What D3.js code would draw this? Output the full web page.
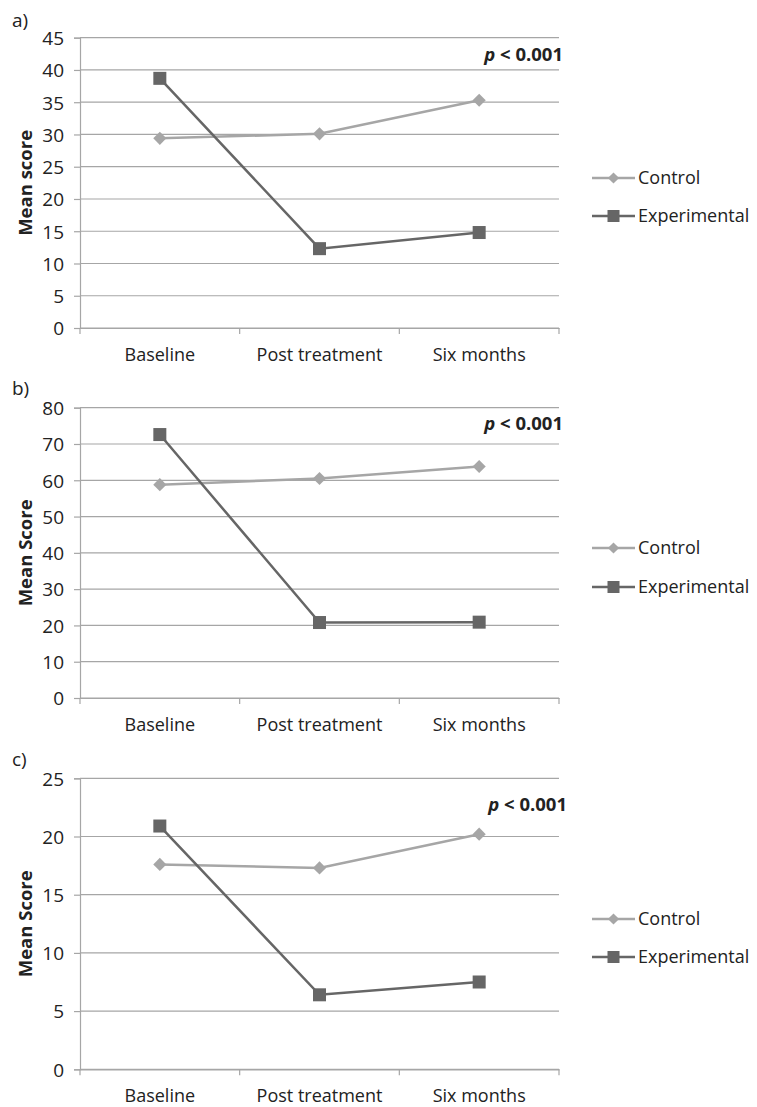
<!DOCTYPE html>
<html><head><meta charset="utf-8">
<script src="https://cdn.jsdelivr.net/npm/d3@7"></script>
<style>body{margin:0;background:#fff}svg{display:block}text{font-family:"Open Sans",sans-serif;fill:#222}</style>
</head><body>
<script>
const categories = ["Baseline", "Post treatment", "Six months"];
const seriesNames = ["Control", "Experimental"];
const panelLabels = ["a)", "b)", "c)"];
const yTitles = ["Mean score", "Mean Score", "Mean Score"];
const yMax = [45, 80, 25];
const yStep = [5, 10, 5];
const controlA = [29.4, 30.1, 35.3];
const experimentalA = [38.7, 12.3, 14.8];
const controlB = [58.8, 60.5, 63.8];
const experimentalB = [72.6, 20.8, 20.9];
const controlC = [17.6, 17.3, 20.2];
const experimentalC = [20.9, 6.4, 7.5];
const pLabel = "< 0.001";

const W = 757, H = 1107;
const FONT = "Open Sans";
const svg = d3.select("body").append("svg").attr("width", W).attr("height", H);
const colors = {Control: "#a6a6a6", Experimental: "#666666"};
const gridColor = "#a6a6a6";

const panels = [
  {top: 37.7, bottom: 328, ctrl: controlA, exp: experimentalA, lab: [12, 27], p: [563, 61], leg: [178, 216]},
  {top: 407.7, bottom: 698, ctrl: controlB, exp: experimentalB, lab: [12, 395], p: [563, 430], leg: [548, 587]},
  {top: 778.3, bottom: 1069.3, ctrl: controlC, exp: experimentalC, lab: [12, 766], p: [567, 811], leg: [919, 957]}
];
const left = 80, right = 559;

panels.forEach((P, i) => {
  const g = svg.append("g");
  const x = d3.scaleBand().domain(categories).range([left, right]);
  const y = d3.scaleLinear().domain([0, yMax[i]]).range([P.bottom, P.top]);
  const ticks = d3.range(0, yMax[i] + 0.001, yStep[i]);

  g.append("g").selectAll("line").data(ticks).join("line")
    .attr("x1", left).attr("x2", right)
    .attr("y1", d => y(d)).attr("y2", d => y(d))
    .attr("stroke", gridColor).attr("stroke-width", 1.2);

  const ya = g.append("g").attr("transform", `translate(${left},0)`)
    .call(d3.axisLeft(y).tickValues(ticks).tickSize(6).tickPadding(10).tickFormat(d3.format("d")));
  ya.select(".domain").attr("stroke", gridColor).attr("stroke-width", 1.2);
  ya.selectAll(".tick line").attr("stroke", gridColor).attr("stroke-width", 1.2);
  ya.selectAll(".tick text").style("font-size", "19px").style("font-family", FONT).attr("fill", "#222").attr("dy", "0.36em");

  const xa = g.append("g").attr("transform", `translate(0,${P.bottom})`)
    .call(d3.axisBottom(x).tickSize(0).tickPadding(0));
  xa.select(".domain").attr("stroke", gridColor).attr("stroke-width", 1.2);
  xa.selectAll(".tick text").style("font-size", "18px").style("font-family", FONT).attr("fill", "#222").attr("y", 33).attr("dy", 0);
  const bounds = categories.map(c => x(c)).concat([right]);
  g.append("g").selectAll("line").data(bounds).join("line")
    .attr("x1", d => d).attr("x2", d => d).attr("y1", P.bottom).attr("y2", P.bottom + 6)
    .attr("stroke", gridColor).attr("stroke-width", 1.2);

  const cx = c => x(c) + x.bandwidth() / 2;
  const line = d3.line().x((d, k) => cx(categories[k])).y(d => y(d));

  g.append("path").datum(P.ctrl).attr("d", line).attr("fill", "none")
    .attr("stroke", colors.Control).attr("stroke-width", 2.5);
  g.append("g").selectAll("path").data(P.ctrl).join("path")
    .attr("d", d3.symbol(d3.symbolDiamond2, 110)())
    .attr("transform", (d, k) => `translate(${cx(categories[k])},${y(d)})`)
    .attr("fill", colors.Control);

  g.append("path").datum(P.exp).attr("d", line).attr("fill", "none")
    .attr("stroke", colors.Experimental).attr("stroke-width", 2.5);
  g.append("g").selectAll("rect").data(P.exp).join("rect")
    .attr("x", (d, k) => cx(categories[k]) - 6.5).attr("y", d => y(d) - 6.5)
    .attr("width", 13).attr("height", 13).attr("fill", colors.Experimental);

  g.append("text").attr("x", P.lab[0]).attr("y", P.lab[1]).style("font-size", "19px").text(panelLabels[i]);

  const midY = (P.top + P.bottom) / 2;
  g.append("text").attr("transform", `translate(32,${midY}) rotate(-90)`)
    .attr("text-anchor", "middle").style("font-size", "18.5px").style("font-weight", "bold").text(yTitles[i]);

  const pt = g.append("text").attr("x", P.p[0]).attr("y", P.p[1]).attr("text-anchor", "end")
    .style("font-size", "18.5px").style("font-weight", "bold");
  pt.append("tspan").style("font-style", "italic").text("p");
  pt.append("tspan").text(" " + pLabel);

  seriesNames.forEach((s, k) => {
    const ly = P.leg[k];
    g.append("line").attr("x1", 592).attr("x2", 635).attr("y1", ly).attr("y2", ly)
      .attr("stroke", colors[s]).attr("stroke-width", 2.5);
    if (s === "Control") {
      g.append("path").attr("d", d3.symbol(d3.symbolDiamond2, 80)()).attr("transform", `translate(613.5,${ly})`).attr("fill", colors[s]);
    } else {
      g.append("rect").attr("x", 607.5).attr("y", ly - 6).attr("width", 12).attr("height", 12).attr("fill", colors[s]);
    }
    g.append("text").attr("x", 638).attr("y", ly).attr("dy", "0.35em").style("font-size", "18px").text(s);
  });
});
</script>
</body></html>
